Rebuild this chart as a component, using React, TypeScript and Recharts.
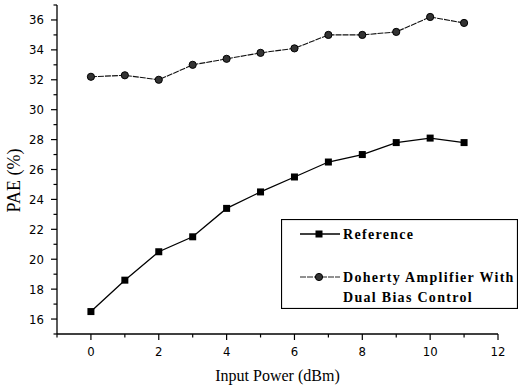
import { LineChart, Line, XAxis, YAxis, Legend } from 'recharts'

const inputPower = [0, 1, 2, 3, 4, 5, 6, 7, 8, 9, 10, 11]
const referencePae = [16.5, 18.6, 20.5, 21.5, 23.4, 24.5, 25.5, 26.5, 27.0, 27.8, 28.1, 27.8]
const dohertyPae = [32.2, 32.3, 32.0, 33.0, 33.4, 33.8, 34.1, 35.0, 35.0, 35.2, 36.2, 35.8]

const xTicks = [-1, 0, 1, 2, 3, 4, 5, 6, 7, 8, 9, 10, 11, 12]
const yTicks = [15, 16, 17, 18, 19, 20, 21, 22, 23, 24, 25, 26, 27, 28, 29, 30, 31, 32, 33, 34, 35, 36, 37]

const data = inputPower.map((x, i) => ({
    x,
    reference: referencePae[i],
    doherty: dohertyPae[i],
}))

const tickFont = "'Liberation Sans Narrow', 'DejaVu Sans Condensed', Arial, sans-serif"
const serif = "'Liberation Serif', 'Times New Roman', serif"
const TICK_SIZE = 6
const TICK_MARGIN = 7

function YTick(props: any) {
    const { x, y, payload } = props
    const major = payload.value % 2 === 0
    const axisX = x + TICK_SIZE + TICK_MARGIN
    return (
        <g>
            <line x1={axisX} x2={axisX - (major ? 6 : 3.5)} y1={y} y2={y} stroke="#000" strokeWidth={1.2} />
            {major && payload.value >= 16 && payload.value <= 36 && (
                <text x={x} y={y} dy={4.5} textAnchor="end" fontSize={13} fontFamily={tickFont} fill="#000">
                    {payload.value}
                </text>
            )}
        </g>
    )
}

function XTick(props: any) {
    const { x, y, payload } = props
    const major = payload.value % 2 === 0
    const axisY = y - TICK_SIZE - TICK_MARGIN
    return (
        <g>
            <line x1={x} x2={x} y1={axisY} y2={axisY + (major ? 6 : 3.5)} stroke="#000" strokeWidth={1.2} />
            {major && payload.value >= 0 && (
                <text x={x} y={y} dy={9} textAnchor="middle" fontSize={13} fontFamily={tickFont} fill="#000">
                    {payload.value}
                </text>
            )}
        </g>
    )
}

function YTitle(props: any) {
    const { viewBox } = props
    const cx = viewBox.x + 14
    const cy = viewBox.y + viewBox.height / 2 + 11
    return (
        <text
            x={cx}
            y={cy}
            transform={`rotate(-90, ${cx}, ${cy})`}
            textAnchor="middle"
            dominantBaseline="central"
            fontFamily={serif}
            fontSize={18}
            fill="#000"
        >
            PAE (%)
        </text>
    )
}

function SquareDot(props: any) {
    const { cx, cy, index } = props
    return <rect key={`s-${index}`} x={cx - 3.5} y={cy - 3.5} width={7} height={7} fill="#000" />
}

function CircleDot(props: any) {
    const { cx, cy, index } = props
    return <circle key={`c-${index}`} cx={cx} cy={cy} r={3.6} fill="#333" stroke="#000" strokeWidth={1} />
}

function LegendBox() {
    const textStyle = { fontFamily: serif, fontWeight: 700, fontSize: 14, letterSpacing: 1.3, fill: '#000' }
    return (
        <svg width={237} height={90} style={{ display: 'block' }}>
            <rect x={0.5} y={0.5} width={236} height={89} fill="#fff" stroke="#000" strokeWidth={1.2} />
            <line x1={19} x2={59} y1={15} y2={15} stroke="#000" strokeWidth={1.3} />
            <rect x={34.5} y={11.5} width={7} height={7} fill="#000" />
            <text x={62} y={20} style={textStyle}>Reference</text>
            <line x1={19} x2={59} y1={58} y2={58} stroke="#222" strokeWidth={1} strokeDasharray="6 1" />
            <circle cx={38} cy={58} r={3.6} fill="#333" stroke="#000" />
            <text x={62} y={63} style={textStyle}>Doherty Amplifier With</text>
            <text x={62} y={83} style={textStyle}>Dual Bias Control</text>
        </svg>
    )
}

export default function App() {
    return (
        <div style={{ position: 'absolute', left: 0, top: 0, width: 521, height: 386, background: '#fff' }}>
            <LineChart width={521} height={386} data={data} margin={{ top: 5, right: 23, bottom: 0, left: 0 }}>
                <XAxis
                    type="number"
                    dataKey="x"
                    domain={[-1, 12]}
                    ticks={xTicks}
                    interval={0}
                    allowDataOverflow
                    height={52}
                    tickSize={TICK_SIZE}
                    tickMargin={TICK_MARGIN}
                    tickLine={false}
                    tick={<XTick />}
                    axisLine={{ stroke: '#000', strokeWidth: 1.3 }}
                    label={{
                        value: 'Input Power (dBm)',
                        position: 'insideBottom',
                        offset: 5,
                        style: { fontFamily: serif, fontSize: 16, fill: '#000' },
                    }}
                />
                <YAxis
                    type="number"
                    domain={[15, 37]}
                    ticks={yTicks}
                    interval={0}
                    allowDataOverflow
                    width={57}
                    tickSize={TICK_SIZE}
                    tickMargin={TICK_MARGIN}
                    tickLine={false}
                    tick={<YTick />}
                    axisLine={{ stroke: '#000', strokeWidth: 1.3 }}
                    label={{ content: (p: any) => <YTitle {...p} /> }}
                />
                <Legend
                    layout="horizontal"
                    verticalAlign="middle"
                    align="center"
                    content={() => <LegendBox />}
                    wrapperStyle={{ left: 281, top: 219, width: 237, height: 90 }}
                />
                <Line
                    dataKey="reference"
                    stroke="#000"
                    strokeWidth={1.3}
                    dot={<SquareDot />}
                    isAnimationActive={false}
                />
                <Line
                    dataKey="doherty"
                    stroke="#111"
                    strokeWidth={1.1}
                    strokeDasharray="6 1"
                    dot={<CircleDot />}
                    isAnimationActive={false}
                />
            </LineChart>
        </div>
    )
}
